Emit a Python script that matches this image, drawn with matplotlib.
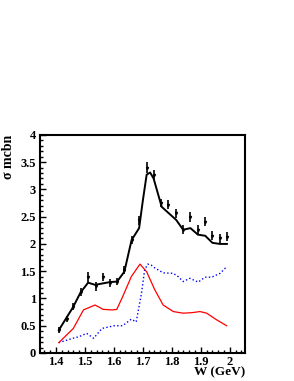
import numpy as np
import matplotlib
matplotlib.use('Agg')
import matplotlib.pyplot as plt
from matplotlib.ticker import MultipleLocator

plt.rcParams['font.family'] = 'Liberation Serif'
plt.rcParams['font.weight'] = 'bold'

# data points with errors
w_pts = [1.410, 1.437, 1.459, 1.485, 1.511, 1.537, 1.561, 1.586, 1.611, 1.636,
         1.661, 1.687, 1.715, 1.738, 1.762, 1.787, 1.813, 1.839, 1.864, 1.890,
         1.915, 1.940, 1.966, 1.990]
sig_pts = [0.42, 0.62, 0.85, 1.12, 1.40, 1.22, 1.39, 1.28, 1.31, 1.52,
           2.07, 2.43, 3.40, 3.27, 2.75, 2.72, 2.56, 2.26, 2.50, 2.26,
           2.41, 2.15, 2.10, 2.13]
sig_err = [0.05, 0.06, 0.06, 0.07, 0.09, 0.08, 0.07, 0.07, 0.07, 0.08,
           0.08, 0.09, 0.10, 0.09, 0.08, 0.08, 0.08, 0.08, 0.09, 0.08,
           0.09, 0.08, 0.08, 0.08]

# total fit (black)
w_tot = [1.410, 1.459, 1.485, 1.511, 1.535, 1.586, 1.611, 1.636, 1.661, 1.687,
         1.700, 1.713, 1.725, 1.737, 1.765, 1.790, 1.815, 1.839, 1.864, 1.890,
         1.915, 1.940, 1.966, 1.990]
sig_tot = [0.42, 0.84, 1.11, 1.29, 1.25, 1.30, 1.31, 1.49, 2.07, 2.29,
           2.80, 3.27, 3.31, 3.20, 2.68, 2.56, 2.44, 2.26, 2.29, 2.17,
           2.15, 2.02, 2.00, 2.00]

# red curve
w_red = [1.410, 1.460, 1.495, 1.535, 1.563, 1.595, 1.610, 1.630, 1.660, 1.690,
         1.713, 1.741, 1.770, 1.805, 1.839, 1.870, 1.897, 1.920, 1.954, 1.989]
sig_red = [0.19, 0.45, 0.79, 0.88, 0.80, 0.79, 0.80, 1.03, 1.40, 1.63,
           1.49, 1.16, 0.88, 0.76, 0.73, 0.74, 0.76, 0.73, 0.61, 0.50]

# blue dotted curve
w_blue = [1.410, 1.459, 1.480, 1.506, 1.530, 1.559, 1.601, 1.630, 1.660, 1.677,
          1.695, 1.706, 1.717, 1.729, 1.741, 1.770, 1.805, 1.822, 1.839, 1.862,
          1.891, 1.914, 1.937, 1.966, 1.989]
sig_blue = [0.19, 0.27, 0.30, 0.36, 0.27, 0.45, 0.50, 0.50, 0.62, 0.57,
            1.09, 1.52, 1.63, 1.61, 1.56, 1.47, 1.46, 1.40, 1.31, 1.37,
            1.30, 1.39, 1.39, 1.46, 1.58]

fig = plt.figure(figsize=(2.94, 3.81), dpi=100)
ax = fig.add_axes([0.136, 0.0735, 0.697, 0.5725])

ax.plot(w_blue, sig_blue, color='blue', linestyle=':', linewidth=1.0)
ax.plot(w_red, sig_red, color='red', linewidth=0.9)
ax.plot(w_tot, sig_tot, color='black', linewidth=1.4)
ax.errorbar(w_pts, sig_pts, yerr=sig_err, fmt='v', color='black',
            markersize=1.5, elinewidth=1.2, capsize=0)

ax.set_xlim(1.345, 2.052)
ax.set_ylim(0, 4)
ax.xaxis.set_minor_locator(MultipleLocator(0.02))
ax.yaxis.set_minor_locator(MultipleLocator(0.1))
ax.set_xticks([1.4, 1.5, 1.6, 1.7, 1.8, 1.9, 2.0])
ax.set_xticklabels(['1.4', '1.5', '1.6', '1.7', '1.8', '1.9', '2'])
ax.set_yticks([0, 0.5, 1, 1.5, 2, 2.5, 3, 3.5, 4])
ax.set_yticklabels(['0', '0.5', '1', '1.5', '2', '2.5', '3', '3.5', '4'])
ax.tick_params(which='both', direction='in', top=False, right=False,
               labelsize=9, width=1.0)
ax.tick_params(which='major', length=4, pad=3)
ax.tick_params(axis='x', which='major', pad=2)
ax.tick_params(which='minor', length=2)
for s in ax.spines.values():
    s.set_linewidth(1.5)

ax.set_xlabel('W (GeV)', fontsize=9.5, fontweight='bold', loc='right', labelpad=-1)
ax.set_ylabel('σ mcbn', fontsize=10, fontweight='bold', loc='top', labelpad=4)

fig.savefig('out.png', dpi=100)
